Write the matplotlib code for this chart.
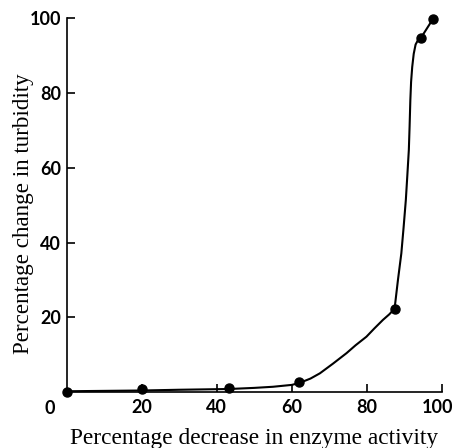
import matplotlib
matplotlib.use("Agg")
import matplotlib.pyplot as plt
from matplotlib.transforms import ScaledTranslation

# measured points
activity_drop = [0, 20, 43.2, 62, 87.4, 94.5, 97.6]
turbidity_change = [0, 0.8, 1.0, 2.6, 22.3, 94.8, 99.8]

# hand-drawn smooth curve through the points
curve_x = [0, 10, 20, 30, 43.2, 50, 55, 60, 62, 65, 67.5, 71, 74.6, 77, 79.9, 82, 84.3,
           86, 87.4, 88.3, 89.2, 89.8, 90.4, 90.8, 91.2, 91.4, 91.6, 91.8, 92.1, 92.5,
           93.0, 93.7, 94.5, 97.6]
curve_y = [0.2, 0.3, 0.4, 0.6, 0.8, 1.1, 1.4, 1.9, 2.4, 3.6, 5.0, 7.6, 10.4, 12.5, 14.8,
           17.0, 19.3, 20.8, 22.3, 30, 37.1, 44, 51.4, 58, 64.8, 71, 78.1, 83, 87.0, 90.5,
           93.0, 94.3, 94.9, 99.8]

x_ticks = [20, 40, 60, 80, 100]
y_ticks = [20, 40, 60, 80, 100]

fig = plt.figure(figsize=(4.56, 4.48), dpi=100)
ax = fig.add_axes([0.146, 0.125, 0.823, 0.834])

ax.plot(curve_x, curve_y, color="black", lw=1.5, solid_capstyle="round",
        solid_joinstyle="round", clip_on=False)
ax.plot(activity_drop, turbidity_change, "o", color="black", ms=6.5, clip_on=False,
        zorder=3)

ax.set_xlim(0, 100)
ax.set_ylim(0, 100)
ax.set_xticks(x_ticks)
ax.set_yticks(y_ticks)
tick_font = {"family": "Lato", "weight": "bold", "size": 13}
ax.set_xticklabels([str(t) for t in x_ticks], fontdict=tick_font)
ax.set_yticklabels([str(t) for t in y_ticks], fontdict=tick_font)
ax.tick_params(direction="in", length=5.5, width=1.2, pad=5)
ax.tick_params(axis="y", pad=4)
# keep the last x label inside the figure edge
last = ax.get_xticklabels()[-1]
last.set_transform(last.get_transform() + ScaledTranslation(-3 / 72, 0, fig.dpi_scale_trans))
ax.text(-0.045, -0.045, "0", transform=ax.transAxes, ha="center", va="center",
        **tick_font)

for side in ("top", "right"):
    ax.spines[side].set_visible(False)
for side in ("left", "bottom"):
    ax.spines[side].set_linewidth(1.2)

ax.set_xlabel("Percentage decrease in enzyme activity", family="Liberation Serif",
              size=16.8, labelpad=9)
ax.set_ylabel("Percentage change in turbidity", family="Liberation Serif",
              size=16.6)
ax.yaxis.set_label_coords(-0.088, 0.478)

fig.savefig("out.png", dpi=100)
